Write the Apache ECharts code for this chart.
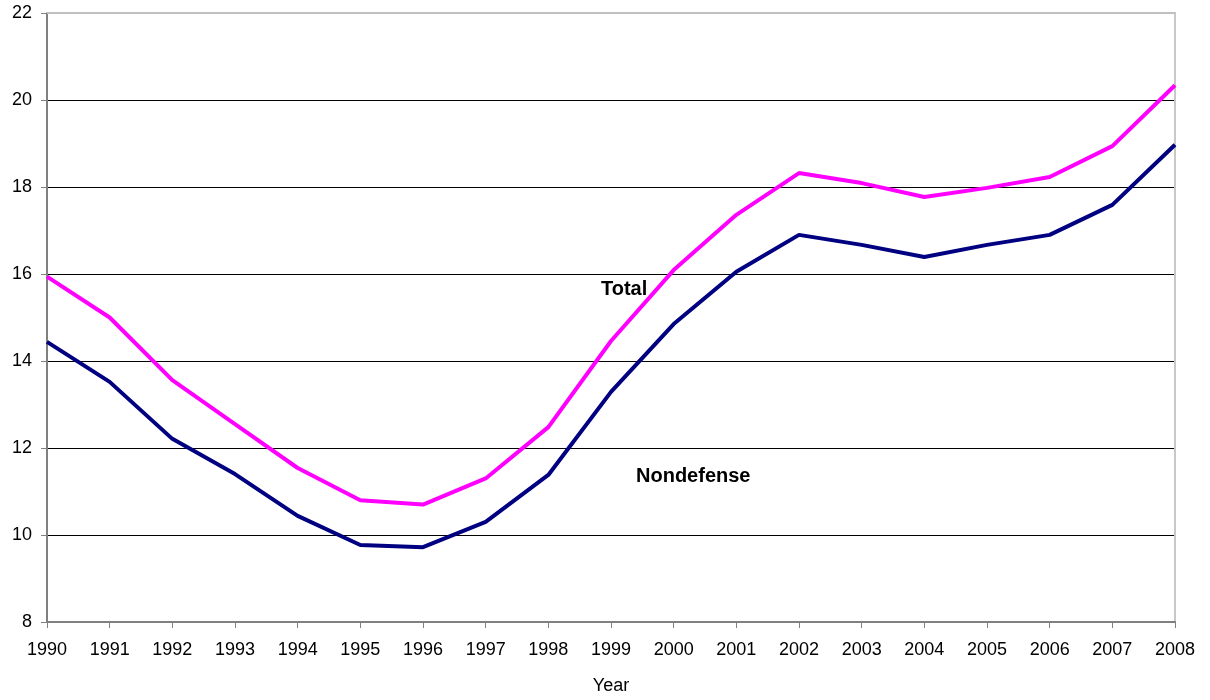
<!DOCTYPE html>
<html>
<head>
<meta charset="utf-8">
<script src="https://cdn.jsdelivr.net/npm/echarts@6/dist/echarts.min.js"></script>
<style>html,body{margin:0;padding:0;background:#fff;}#c{width:1210px;height:700px;}</style>
</head>
<body>
<div id="c"></div>
<script>
const years = ['1990','1991','1992','1993','1994','1995','1996','1997','1998','1999','2000','2001','2002','2003','2004','2005','2006','2007','2008'];
const total = [15.94,15.0,13.56,12.55,11.54,10.8,10.7,11.3,12.48,14.46,16.09,17.36,18.32,18.09,17.77,17.98,18.23,18.94,20.34];
const nondefense = [14.44,13.52,12.21,11.4,10.44,9.77,9.72,10.3,11.38,13.29,14.85,16.05,16.9,16.67,16.39,16.67,16.9,17.59,18.97];
const yTicks = {min: 8, max: 22, interval: 2};

const chart = echarts.init(document.getElementById('c'));
const font = 'Arial, "Liberation Sans", sans-serif';
chart.setOption({
  animation: false,
  backgroundColor: '#fff',
  grid: {left: 47, right: 35, top: 13, bottom: 78, containLabel: false},
  xAxis: [{
    type: 'category', data: years, boundaryGap: false,
    name: 'Year', nameLocation: 'middle', nameGap: 55,
    nameTextStyle: {fontFamily: font, fontSize: 18, color: '#000'},
    axisLine: {lineStyle: {color: '#808080', width: 2}},
    axisTick: {show: true, length: 6, lineStyle: {color: '#808080'}},
    axisLabel: {fontFamily: font, fontSize: 18, color: '#000', margin: 19, interval: 0},
    splitLine: {show: false}
  }, {
    type: 'category', data: years, boundaryGap: false, position: 'top',
    axisLine: {show: true, lineStyle: {color: '#c0c0c0', width: 2}},
    axisTick: {show: false}, axisLabel: {show: false}, splitLine: {show: false}
  }],
  yAxis: [{
    type: 'value', min: yTicks.min, max: yTicks.max, interval: yTicks.interval,
    axisLine: {show: true, lineStyle: {color: '#808080', width: 2}},
    axisTick: {show: true, length: 6, lineStyle: {color: '#808080'}},
    axisLabel: {fontFamily: font, fontSize: 18, color: '#000', margin: 15},
    splitLine: {show: true, lineStyle: {color: '#000', width: 1}}
  }, {
    type: 'value', min: yTicks.min, max: yTicks.max, position: 'right',
    axisLine: {show: true, lineStyle: {color: '#c8c8c8', width: 2}},
    axisTick: {show: false}, axisLabel: {show: false}, splitLine: {show: false}
  }],
  series: [{
    name: 'Total', type: 'line', data: total, symbol: 'none',
    lineStyle: {color: '#FF00FF', width: 4}, itemStyle: {color: '#FF00FF'}
  }, {
    name: 'Nondefense', type: 'line', data: nondefense, symbol: 'none',
    lineStyle: {color: '#000080', width: 4}, itemStyle: {color: '#000080'}
  }],
  graphic: [
    {type: 'text', left: 601, top: 279, z: 100, style: {text: 'Total', font: 'bold 20px Arial, "Liberation Sans", sans-serif', fill: '#000'}},
    {type: 'text', left: 636, top: 466, z: 100, style: {text: 'Nondefense', font: 'bold 20px Arial, "Liberation Sans", sans-serif', fill: '#000'}}
  ]
});
</script>
</body>
</html>
